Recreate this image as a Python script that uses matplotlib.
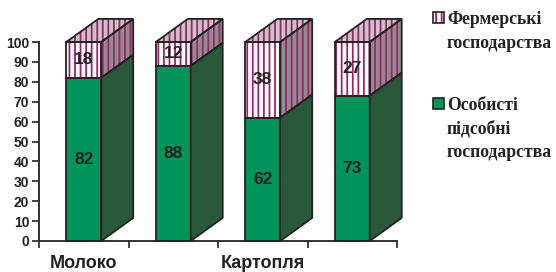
import matplotlib
matplotlib.use("Agg")
import matplotlib.pyplot as plt
from matplotlib.patches import Polygon, Rectangle

# data
categories = ["Молоко", "", "Картопля", ""]
private_farms = [82, 88, 62, 73]   # Особисті підсобні господарства
farmers = [18, 12, 38, 27]         # Фермерські господарства
legend_labels = ["Фермерські\nгосподарства", "Особисті\nпідсобні\nгосподарства"]

GREEN = "#00935a"
GREEN_SIDE = "#29583b"
PURPLE = "#a3206e"
GREY_SIDE = "#8e8e8e"
GREY_TOP = "#c6c6c6"
EDGE = "#222222"

W, H = 556, 272
fig = plt.figure(figsize=(W / 100, H / 100), dpi=100)
ax = fig.add_axes([39 / W, 31 / H, 358 / W, 199 / H])

plt.rcParams["hatch.linewidth"] = 1.3
bw = 0.39      # bar width in category units
dx = 0.3575    # depth offset (x, category units)
dy = 11.6      # depth offset (y, value units)


def face(pts, color, hatch=None):
    if hatch:
        ax.add_patch(Polygon(pts, closed=True, facecolor=color, edgecolor=PURPLE,
                             hatch=hatch, lw=0, clip_on=False, zorder=2))
        ax.add_patch(Polygon(pts, closed=True, fill=False, edgecolor=EDGE,
                             lw=1.3, clip_on=False, zorder=3))
    else:
        ax.add_patch(Polygon(pts, closed=True, facecolor=color, edgecolor=EDGE,
                             lw=1.3, clip_on=False, zorder=3))


for i, (p, f) in enumerate(zip(private_farms, farmers)):
    l, r = i - bw / 2, i + bw / 2
    top = p + f
    # front faces
    face([(l, 0), (r, 0), (r, p), (l, p)], GREEN)
    face([(l, p), (r, p), (r, top), (l, top)], "white", "|||")
    # side faces
    face([(r, 0), (r + dx, dy), (r + dx, p + dy), (r, p)], GREEN_SIDE)
    face([(r, p), (r + dx, p + dy), (r + dx, top + dy), (r, top)], GREY_SIDE, "|||")
    # top face
    face([(l, top), (l + dx, top + dy), (r + dx, top + dy), (r, top)], GREY_TOP, "|||")
    # value labels
    ax.text(i, p / 2, str(p), ha="center", va="center", fontsize=12.5,
            fontweight="bold", family="Liberation Sans", color=EDGE, zorder=5)
    ax.text(i, p + f / 2, str(f), ha="center", va="center", fontsize=12.5,
            fontweight="bold", family="Liberation Sans", color=EDGE, zorder=5)

ax.set_xlim(-0.5, len(categories) - 0.5)
ax.set_ylim(0, 100)
ax.set_yticks(range(0, 101, 10))
ax.set_xticks([k - 0.5 for k in range(len(categories) + 1)])
ax.set_xticklabels([])
ax.set_xticks(range(len(categories)), minor=True)
ax.set_xticklabels(categories, minor=True)
ax.tick_params(axis="x", which="major", direction="out", length=5, width=1.2, color=EDGE)
ax.tick_params(axis="x", which="minor", length=0, pad=10)
ax.tick_params(axis="y", direction="out", length=5, width=1.2, color=EDGE, pad=2)
for lab in ax.get_yticklabels():
    lab.set_fontsize(10)
    lab.set_fontweight("bold")
    lab.set_family("Liberation Sans")
    lab.set_color(EDGE)
for lab in ax.get_xticklabels(minor=True):
    lab.set_fontsize(13)
    lab.set_fontweight("bold")
    lab.set_family("Liberation Sans")
    lab.set_color(EDGE)
for s in ["top", "right"]:
    ax.spines[s].set_visible(False)
for s in ["left", "bottom"]:
    ax.spines[s].set_linewidth(1.3)
    ax.spines[s].set_color(EDGE)
ax.patch.set_visible(False)

# legend (pixel positions from the top-left corner)
leg = [((433, 12), [24, 48], "white", "|||", legend_labels[0]),
       ((433, 98), [110, 133.5, 157], GREEN, None, legend_labels[1])]
for (x0, y0), baselines, color, hatch, text in leg:
    sq = 11
    fig.patches.append(Rectangle((x0 / W, 1 - (y0 + sq) / H), sq / W, sq / H,
                                 transform=fig.transFigure, facecolor=color,
                                 edgecolor=PURPLE if hatch else EDGE, hatch=hatch,
                                 lw=0 if hatch else 1.2))
    if hatch:
        fig.patches.append(Rectangle((x0 / W, 1 - (y0 + sq) / H), sq / W, sq / H,
                                     transform=fig.transFigure, fill=False,
                                     edgecolor=EDGE, lw=1.2))
    for line, yb in zip(text.split("\n"), baselines):
        fig.text(447 / W, 1 - yb / H, line, ha="left", va="baseline", fontsize=12.7,
                 fontweight="bold", family="Liberation Serif", color=EDGE)

fig.savefig("out.png", dpi=100)
